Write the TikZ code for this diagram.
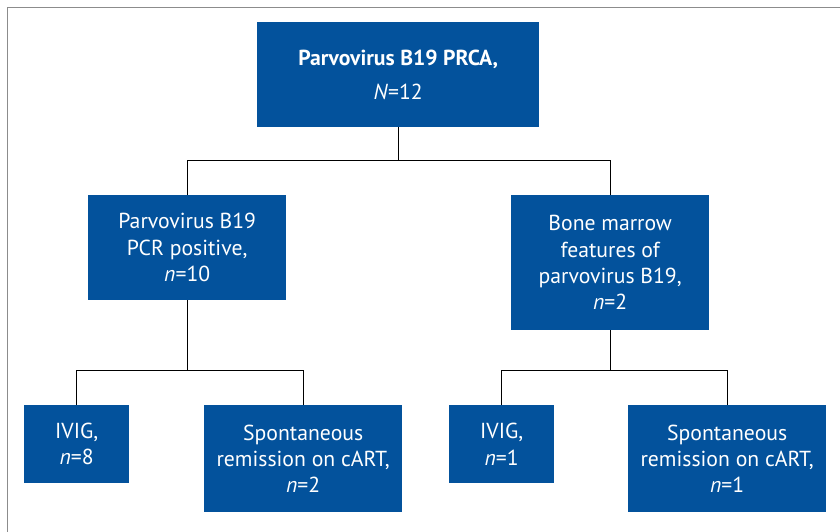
\documentclass[tikz,border=0pt]{standalone}
\usepackage{fontspec}
\setmainfont{PT Sans}
\usetikzlibrary{calc}
\definecolor{boxblue}{RGB}{3,82,156}
\definecolor{framegray}{RGB}{140,140,140}
\begin{document}
\begin{tikzpicture}[x=1pt,y=-1pt,
  box/.style={fill=boxblue, text=white, align=center, inner sep=0pt,
              font=\fontsize{21.7}{26.3}\selectfont, anchor=north west},
  conn/.style={draw=black, line width=1.3pt}]
\useasboundingbox (0,0) rectangle (840,532);
\draw[framegray, line width=1pt] (7.5,540) -- (7.5,7.5) -- (845,7.5);

\node[box, minimum width=282pt, minimum height=105pt] (top) at (257,22)
  {\textbf{Parvovirus B19 PRCA,}\\[8pt]\textit{N}=12};
\node[box, minimum width=198pt, minimum height=105pt] (ml) at (88,195)
  {Parvovirus B19\\PCR positive,\\\textit{n}=10};
\node[box, minimum width=198pt, minimum height=135pt] (mr) at (511,195)
  {Bone marrow\\features of\\parvovirus B19,\\\textit{n}=2};
\node[box, minimum width=105pt, minimum height=78pt] (bl1) at (24,405)
  {IVIG,\\\textit{n}=8};
\node[box, minimum width=198pt, minimum height=107pt] (bl2) at (204,405)
  {Spontaneous\\remission on cART,\\\textit{n}=2};
\node[box, minimum width=105pt, minimum height=78pt] (br1) at (449,405)
  {IVIG,\\\textit{n}=1};
\node[box, minimum width=198pt, minimum height=107pt] (br2) at (628,405)
  {Spontaneous\\remission on cART,\\\textit{n}=1};

\coordinate (j1) at ($(top.south)+(0,33)$);
\coordinate (j2) at ($(ml.south)+(0,70)$);
\coordinate (j3) at ($(mr.south)+(0,40.3)$);

\draw[conn] (top.south) -- (j1);
\draw[conn] (ml.north) |- (j1) -| (mr.north);
\draw[conn] (ml.south) -- (j2);
\draw[conn] (bl1.north) |- (j2) -| (bl2.north);
\draw[conn] (mr.south) -- (j3);
\draw[conn] (br1.north) |- (j3) -| (br2.north);
\end{tikzpicture}
\end{document}
